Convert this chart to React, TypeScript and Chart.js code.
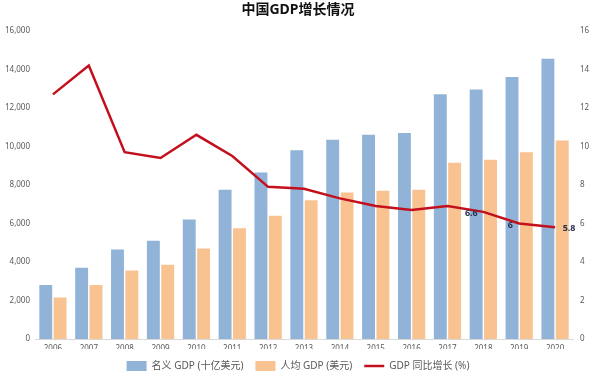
import React, { useEffect, useRef } from "react";
import { Chart, registerables } from "chart.js";

Chart.register(...registerables);

const years = ["2006", "2007", "2008", "2009", "2010", "2011", "2012", "2013", "2014", "2015", "2016", "2017", "2018", "2019", "2020"];
const nominalGdp = [2800, 3700, 4650, 5100, 6200, 7750, 8650, 9800, 10350, 10600, 10700, 12700, 12950, 13600, 14550];
const perCapitaGdp = [2150, 2800, 3550, 3850, 4700, 5750, 6400, 7200, 7600, 7700, 7750, 9150, 9300, 9700, 10300];
const growth = [12.7, 14.2, 9.7, 9.4, 10.6, 9.5, 7.9, 7.8, 7.3, 6.9, 6.7, 6.9, 6.6, 6.0, 5.8];
const labelled = [12, 13, 14];
const labelText = ["6.6", "6", "5.8"];

const FONT = "'Noto Sans', 'Noto Sans CJK SC', sans-serif";

export default function App() {
  const ref = useRef<HTMLCanvasElement | null>(null);
  useEffect(() => {
    if (!ref.current) return;
    const labelPlugin = {
      id: "pointLabels",
      afterDatasetsDraw(chart: any) {
        const meta = chart.getDatasetMeta(2);
        const ctx = chart.ctx;
        ctx.save();
        ctx.font = `bold 9px ${FONT}`;
        ctx.fillStyle = "#26324d";
        ctx.textBaseline = "middle";
        ctx.textAlign = "center";
        const offs = [[-12, 2], [-9, 2], [14, 1]];
        labelled.forEach((idx, i) => {
          const p = meta.data[idx];
          ctx.fillText(labelText[i], p.x + offs[i][0], p.y + offs[i][1]);
        });
        ctx.restore();
      },
    };
    const chart = new Chart(ref.current, {
      type: "bar",
      data: {
        labels: years,
        datasets: [
          {
            type: "bar",
            label: "名义 GDP (十亿美元)",
            data: nominalGdp,
            backgroundColor: "#91B3D8",
            yAxisID: "y",
            order: 2,
            pointStyle: "rect",
          } as any,
          {
            type: "bar",
            label: "人均 GDP (美元)",
            data: perCapitaGdp,
            backgroundColor: "#F9C291",
            yAxisID: "y",
            order: 2,
            pointStyle: "rect",
          } as any,
          {
            type: "line",
            label: "GDP 同比增长 (%)",
            data: growth,
            borderColor: "#C3101C",
            backgroundColor: "#C3101C",
            borderWidth: 2.5,
            pointRadius: 0,
            tension: 0,
            yAxisID: "y1",
            order: 1,
            pointStyle: "line",
          } as any,
        ],
      },
      options: {
        responsive: false,
        animation: false,
        layout: { padding: { left: 0, right: 0, top: 0, bottom: -4 } },
        plugins: {
          title: {
            display: true,
            text: "中国GDP增长情况",
            font: { family: FONT, size: 14, weight: "bold" },
            color: "#111",
            padding: { top: 2, bottom: 12 },
          },
          legend: {
            position: "bottom",
            labels: {
              usePointStyle: true,
              pointStyleWidth: 20,
              boxHeight: 11,
              padding: 12,
              color: "#595959",
              font: { family: FONT, size: 10 },
              sort: (a: any, b: any) => a.datasetIndex - b.datasetIndex,
            },
          },
          tooltip: { enabled: false },
        },
        scales: {
          x: {
            grid: { display: false, drawTicks: false },
            border: { display: true, color: "#d9d9d9" },
            ticks: { color: "#595959", font: { family: FONT, size: 8 }, maxRotation: 0, autoSkip: false, padding: 5 },
            categoryPercentage: 0.65,
            barPercentage: 1,
            afterFit: (s: any) => { s.height = 10; },
          } as any,
          y: {
            position: "left",
            min: 0,
            max: 16000,
            grid: { display: false, drawTicks: false },
            border: { display: false },
            ticks: {
              stepSize: 2000,
              color: "#595959",
              font: { family: FONT, size: 8 },
              padding: 5,
              callback: (v: any) => Number(v).toLocaleString("en-US"),
            },
            afterFit: (s: any) => { s.width = 35; },
          },
          y1: {
            position: "right",
            min: 0,
            max: 16,
            grid: { display: false, drawTicks: false },
            border: { display: false },
            ticks: { stepSize: 2, color: "#595959", font: { family: FONT, size: 8 }, padding: 7 },
            afterFit: (s: any) => { s.width = 23; },
          },
        },
      },
      plugins: [labelPlugin],
    });
    return () => chart.destroy();
  }, []);
  return (
    <div style={{ position: "absolute", left: 0, top: 0, width: 596, height: 377, background: "#fff" }}>
      <canvas ref={ref} width={596} height={377} />
    </div>
  );
}
